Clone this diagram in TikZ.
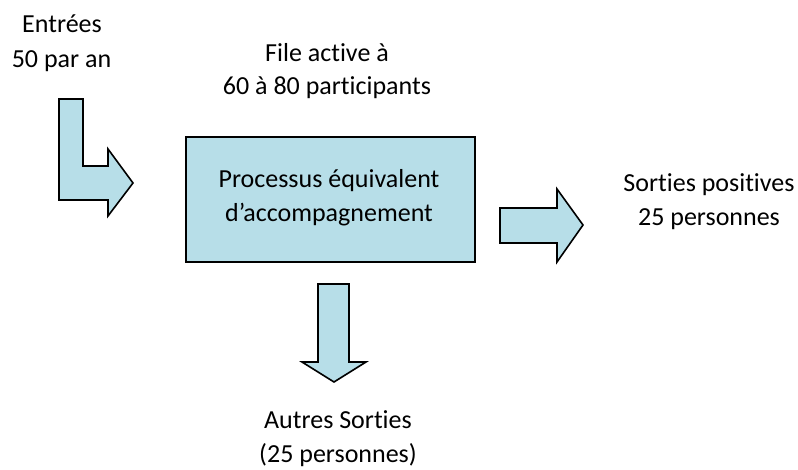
\documentclass[tikz,border=0pt]{standalone}
\usepackage{fontspec}
\setmainfont[Ligatures={NoCommon}]{Carlito}
\newcommand\brk{\kern0pt{}}
\definecolor{aqua}{HTML}{B7DEE8}
\begin{document}
\begin{tikzpicture}[x=1pt,y=-1pt,
  shapestyle/.style={fill=aqua,draw=black,line width=1.6pt,line join=miter},
  lbl/.style={font=\fontsize{26}{34}\selectfont,anchor=base,inner sep=0pt}]
\useasboundingbox (0,0) rectangle (798,470);
% main box
\node[shapestyle,minimum width=289pt,minimum height=125pt,anchor=north west,inner sep=0pt] (box) at (185,136) {};
\node[lbl] (p1) at (329,188) {Processus équivalent};
\node[lbl] (p2) at (329,221.5) {d’accompagnement};
% bent entry arrow
\draw[shapestyle] (59,99) -- (83,99) -- (83,166) -- (108,166) -- (108,149) -- (133,183)
  -- (108,216) -- (108,200) -- (59,200) -- cycle;
% right arrow
\draw[shapestyle] (500,208) -- (557,208) -- (557,189) -- (583,225) -- (557,262)
  -- (557,243) -- (500,243) -- cycle;
% down arrow
\draw[shapestyle] (318,284) -- (349,284) -- (349,362) -- (366,362) -- (334,382)
  -- (302,362) -- (318,362) -- cycle;
% labels
\node[lbl] (e1) at (62,33) {Entrées};
\node[lbl] (e2) at (61.5,68) {50 par an};
\node[lbl] (f1) at (327,61.5) {File act\brk ive à};
\node[lbl] (f2) at (327,95) {60 à 80 part\brk icipants};
\node[lbl] (s1) at (709,191.5) {Sort\brk ies posit\brk ives};
\node[lbl] (s2) at (709,225.5) {25 personnes};
\node[lbl] (a1) at (338,428) {Autres Sort\brk ies};
\node[lbl] (a2) at (338,462) {(25 personnes)};
\end{tikzpicture}
\end{document}
